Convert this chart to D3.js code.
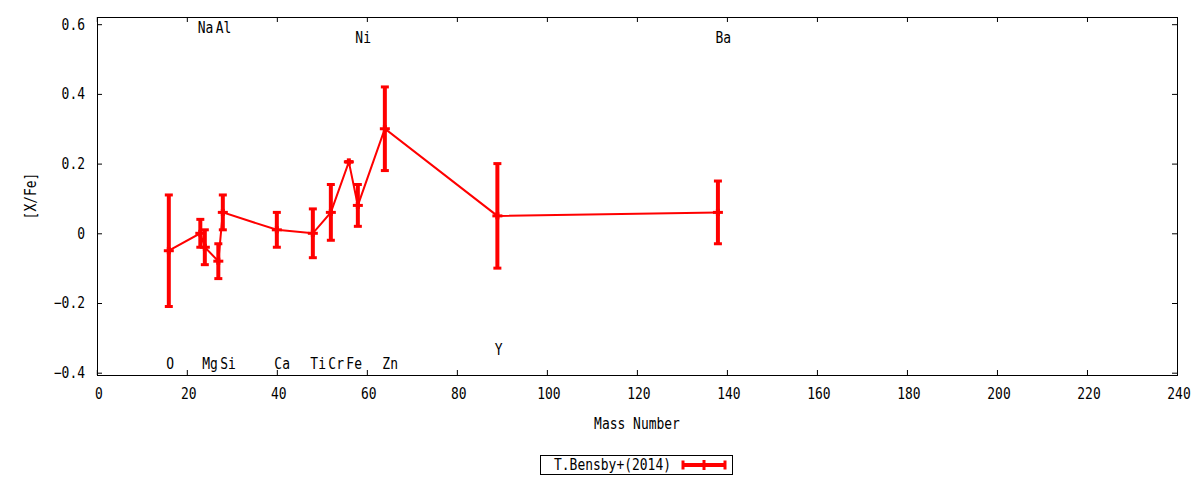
<!DOCTYPE html>
<html>
<head>
<meta charset="utf-8">
<script src="https://cdn.jsdelivr.net/npm/d3@7"></script>
<style>
  body { margin: 0; background: #fff; }
  text { font-family: "DejaVu Sans Mono", monospace; font-size: 15px; fill: #000; }
</style>
</head>
<body>
<div id="vis"></div>
<script>
const FRAME_WIDTH = 1200;
const FRAME_HEIGHT = 480;
const PLOT = {left: 97, right: 1177, top: 17, bottom: 375};
const CHAR_W = 7.8; // the original font is a narrow monospace

// data
const elements = ["O", "Na", "Mg", "Al", "Si", "Ca", "Ti", "Cr", "Fe", "Ni", "Zn", "Y", "Ba"];
const massNumbers = [16, 23, 24, 27, 28, 40, 48, 52, 56, 58, 64, 89, 138];
const xFe = [-0.05, 0.00, -0.04, -0.08, 0.06, 0.01, 0.00, 0.06, 0.205, 0.08, 0.30, 0.05, 0.06];
const xFeErr = [0.16, 0.04, 0.05, 0.05, 0.05, 0.05, 0.07, 0.08, 0.00, 0.06, 0.12, 0.15, 0.09];
// height at which each element name is written
const labelY = [-0.375, 0.59, -0.375, 0.59, -0.375, -0.375, -0.375, -0.375, -0.375, 0.56, -0.375, -0.335, 0.56];

const xTicks = [0, 20, 40, 60, 80, 100, 120, 140, 160, 180, 200, 220, 240];
const yTicks = [-0.4, -0.2, 0, 0.2, 0.4, 0.6];
const seriesName = "T.Bensby+(2014)";

const RED = "#ff0000";

const data = elements.map((e, i) => ({
  name: e, a: massNumbers[i], v: xFe[i], err: xFeErr[i], ly: labelY[i]
}));

const svg = d3.select("#vis")
  .append("svg")
    .attr("width", FRAME_WIDTH)
    .attr("height", FRAME_HEIGHT);

const X_SCALE = d3.scaleLinear()
  .domain([0, 240])
  .range([96.8, 1177]);

const Y_SCALE = d3.scaleLinear()
  .domain([-0.4, 0.6])
  .range([372.7, 24.2]);

// ticks on all four sides, pointing inward
svg.append("g")
  .attr("transform", "translate(0," + PLOT.bottom + ")")
  .call(d3.axisBottom(X_SCALE).tickValues(xTicks).tickSize(-5).tickPadding(13).tickFormat(d3.format("d")))
  .call(g => g.select(".domain").remove())
  .call(g => g.selectAll(".tick text").attr("dx", 1.5));

svg.append("g")
  .attr("transform", "translate(0," + PLOT.top + ")")
  .call(d3.axisTop(X_SCALE).tickValues(xTicks).tickSize(-5).tickFormat(""))
  .call(g => g.select(".domain").remove());

svg.append("g")
  .attr("transform", "translate(" + PLOT.left + ",0)")
  .call(d3.axisLeft(Y_SCALE).tickValues(yTicks).tickSize(-5).tickPadding(12)
    .tickFormat(d => d === 0 ? "0" : d3.format(".1f")(d)))
  .call(g => g.select(".domain").remove());

svg.append("g")
  .attr("transform", "translate(" + PLOT.right + ",0)")
  .call(d3.axisRight(Y_SCALE).tickValues(yTicks).tickSize(-5).tickFormat(""))
  .call(g => g.select(".domain").remove());

svg.selectAll(".tick line").attr("stroke", "#000");
svg.selectAll(".tick text").attr("fill", "#000");
svg.selectAll("g").attr("font-size", null).attr("font-family", null);

svg.append("rect")
  .attr("x", PLOT.left + 0.5)
  .attr("y", PLOT.top + 0.5)
  .attr("width", PLOT.right - PLOT.left)
  .attr("height", PLOT.bottom - PLOT.top)
  .attr("fill", "none")
  .attr("stroke", "#000")
  .attr("stroke-width", 1);

// axis titles
svg.append("text")
  .attr("x", (PLOT.left + PLOT.right) / 2)
  .attr("y", 424)
  .attr("dy", "0.35em")
  .attr("text-anchor", "middle")
  .text("Mass Number");

svg.append("text")
  .attr("transform", "translate(31," + ((PLOT.top + PLOT.bottom) / 2) + ") rotate(-90)")
  .attr("dy", "0.35em")
  .attr("text-anchor", "middle")
  .text("[X/Fe]");

// element names
svg.selectAll(".elabel")
  .data(data)
  .enter()
  .append("text")
    .attr("class", "elabel")
    .attr("x", d => X_SCALE(d.a) - 2.5)
    .attr("y", d => Y_SCALE(d.ly))
    .attr("dy", "0.35em")
    .text(d => d.name);

// connecting line
const line = d3.line()
  .x(d => X_SCALE(d.a))
  .y(d => Y_SCALE(d.v));

svg.append("path")
  .datum(data)
  .attr("d", line)
  .attr("fill", "none")
  .attr("stroke", RED)
  .attr("stroke-width", 2);

// error bars with caps, plus a "+" point at each value
const bars = svg.selectAll(".ebar")
  .data(data)
  .enter()
  .append("g")
    .attr("class", "ebar")
    .attr("stroke", RED);

bars.append("line")
  .attr("x1", d => X_SCALE(d.a))
  .attr("x2", d => X_SCALE(d.a))
  .attr("y1", d => Y_SCALE(d.v + d.err))
  .attr("y2", d => Y_SCALE(d.v - d.err))
  .attr("stroke-width", 4);

[1, -1].forEach(k => {
  bars.append("line")
    .attr("x1", d => X_SCALE(d.a) - 4)
    .attr("x2", d => X_SCALE(d.a) + 4)
    .attr("y1", d => Y_SCALE(d.v + k * d.err))
    .attr("y2", d => Y_SCALE(d.v + k * d.err))
    .attr("stroke-width", 3);
});

bars.append("line")
  .attr("x1", d => X_SCALE(d.a) - 5)
  .attr("x2", d => X_SCALE(d.a) + 5)
  .attr("y1", d => Y_SCALE(d.v))
  .attr("y2", d => Y_SCALE(d.v))
  .attr("stroke-width", 3);
bars.append("line")
  .attr("x1", d => X_SCALE(d.a))
  .attr("x2", d => X_SCALE(d.a))
  .attr("y1", d => Y_SCALE(d.v) - 3.5)
  .attr("y2", d => Y_SCALE(d.v) + 3.5)
  .attr("stroke-width", 4);

// legend
const legend = svg.append("g").attr("transform", "translate(540,455)");
legend.append("rect")
  .attr("x", 0.5).attr("y", 0.5)
  .attr("width", 192).attr("height", 19)
  .attr("fill", "#fff")
  .attr("stroke", "#000");
legend.append("text")
  .attr("x", 14).attr("y", 10)
  .attr("dy", "0.35em")
  .text(seriesName);
const lg = legend.append("g").attr("stroke", RED);
lg.append("line").attr("x1", 143).attr("x2", 185).attr("y1", 10).attr("y2", 10).attr("stroke-width", 4);
[143, 185].forEach(x => {
  lg.append("line").attr("x1", x).attr("x2", x).attr("y1", 5.5).attr("y2", 14.5).attr("stroke-width", 3);
});
lg.append("line").attr("x1", 164).attr("x2", 164).attr("y1", 5).attr("y2", 15).attr("stroke-width", 3);

// squeeze every label to the narrow width of the original font
svg.selectAll("text").each(function() {
  const n = this.textContent.length;
  if (n > 0) {
    d3.select(this)
      .attr("textLength", n * CHAR_W)
      .attr("lengthAdjust", "spacingAndGlyphs");
  }
});
</script>
</body>
</html>
